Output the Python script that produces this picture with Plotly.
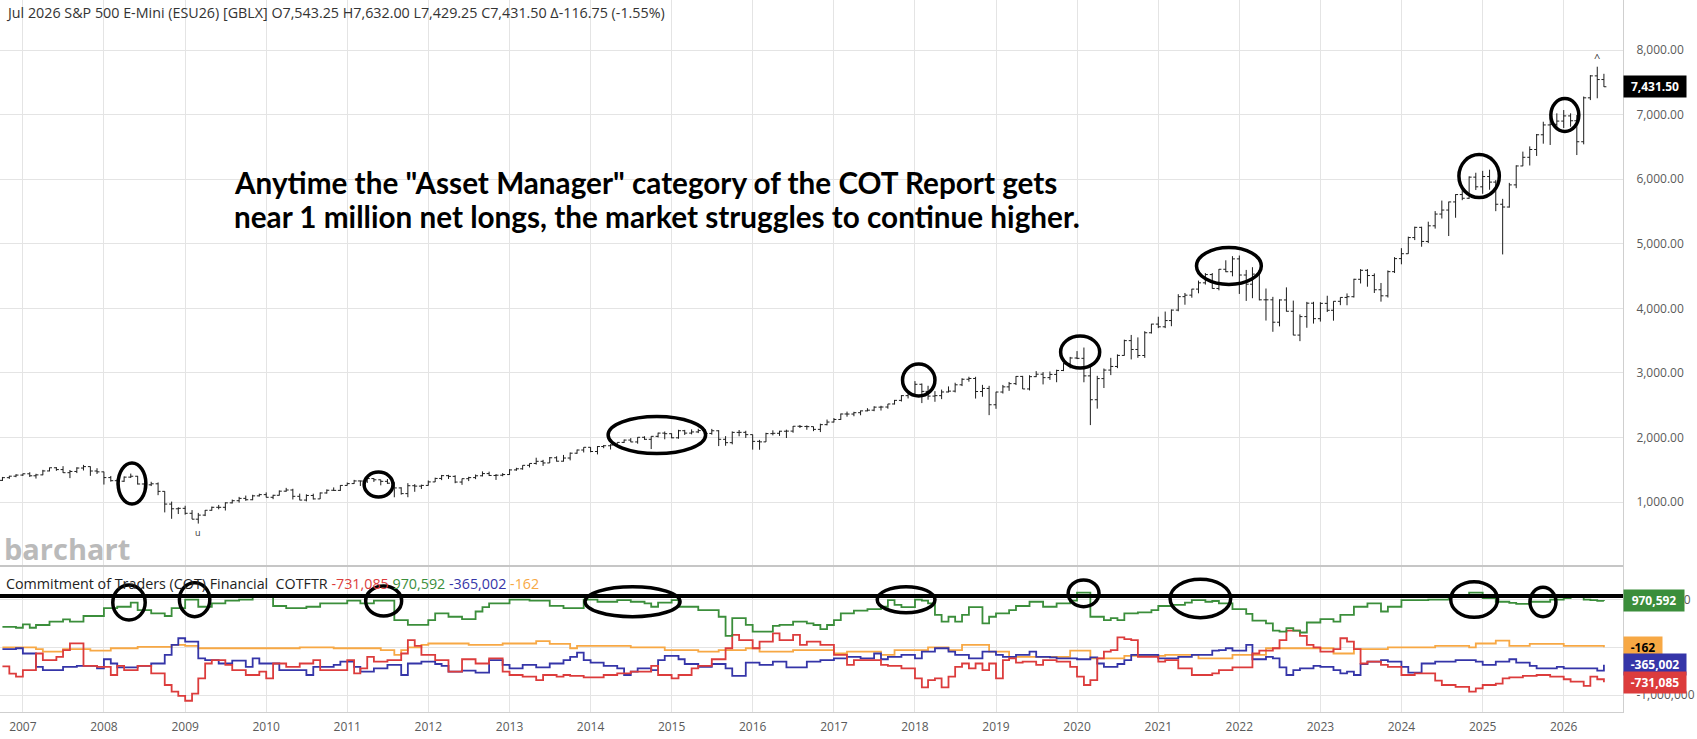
import numpy as np
import pandas as pd
import plotly.graph_objects as go

# monthly bars of the S&P 500 E-Mini, Oct 2006 .. Jul 2026
bar_open = [
    1336, 1378, 1401,
    1418, 1438, 1407, 1421, 1482, 1531, 1503, 1455, 1474, 1527, 1549, 1481,
    1468, 1379, 1331, 1323, 1386, 1400, 1280, 1267, 1283, 1166, 969, 896,
    903, 826, 735, 798, 873, 919, 919, 988, 1021, 1057, 1036, 1096,
    1115, 1074, 1105, 1169, 1187, 1089, 1031, 1102, 1049, 1141, 1183, 1181,
    1258, 1286, 1327, 1326, 1364, 1345, 1321, 1292, 1219, 1131, 1253, 1247,
    1258, 1312, 1366, 1409, 1398, 1310, 1362, 1379, 1407, 1441, 1412, 1416,
    1426, 1498, 1515, 1569, 1598, 1631, 1606, 1686, 1633, 1682, 1757, 1806,
    1848, 1783, 1860, 1872, 1884, 1924, 1960, 1931, 2003, 1972, 2018, 2068,
    2059, 1995, 2105, 2068, 2086, 2107, 2063, 2104, 1972, 1920, 2079, 2080,
    2044, 1940, 1932, 2060, 2065, 2097, 2099, 2174, 2171, 2168, 2126, 2199,
    2239, 2279, 2364, 2363, 2384, 2412, 2423, 2470, 2472, 2519, 2575, 2648,
    2674, 2824, 2714, 2641, 2648, 2705, 2718, 2816, 2902, 2914, 2712, 2760,
    2507, 2704, 2784, 2834, 2946, 2752, 2942, 2980, 2927, 2977, 3038, 3141,
    3231, 3226, 2954, 2585, 2912, 3044, 3100, 3271, 3500, 3363, 3270, 3622,
    3756, 3714, 3811, 3973, 4181, 4204, 4298, 4395, 4523, 4308, 4605, 4567,
    4766, 4516, 4374, 4530, 4132, 4132, 3785, 4130, 3955, 3586, 3872, 4080,
    3840, 4077, 3970, 4109, 4169, 4180, 4450, 4589, 4508, 4288, 4194, 4568,
    4770, 4846, 5096, 5254, 5036, 5278, 5460, 5522, 5648, 5762, 5705, 6032,
    5882, 6041, 5955, 5612, 5569, 5912, 6205, 6339, 6460, 6688, 6840, 6850,
    6900, 6980, 6905, 6580, 7260, 7600, 7543.25,
]
bar_high = [
    1389, 1407, 1432,
    1441, 1462, 1438, 1499, 1535, 1541, 1556, 1497, 1539, 1576, 1553, 1524,
    1471, 1404, 1359, 1397, 1441, 1405, 1293, 1314, 1304, 1168, 1007, 919,
    943, 876, 832, 877, 930, 956, 996, 1039, 1080, 1101, 1113, 1130,
    1150, 1113, 1180, 1220, 1206, 1131, 1120, 1130, 1149, 1196, 1227, 1263,
    1303, 1344, 1333, 1365, 1371, 1346, 1357, 1307, 1230, 1293, 1278, 1270,
    1334, 1378, 1420, 1422, 1415, 1364, 1392, 1427, 1475, 1471, 1434, 1448,
    1509, 1531, 1570, 1598, 1687, 1654, 1698, 1709, 1730, 1768, 1813, 1849,
    1850, 1867, 1884, 1897, 1924, 1968, 1991, 2005, 2019, 2019, 2075, 2093,
    2064, 2119, 2118, 2126, 2135, 2130, 2133, 2113, 2021, 2094, 2116, 2104,
    2046, 1963, 2073, 2111, 2104, 2121, 2178, 2194, 2188, 2170, 2214, 2278,
    2301, 2371, 2401, 2398, 2418, 2454, 2484, 2491, 2520, 2582, 2657, 2695,
    2873, 2836, 2801, 2718, 2742, 2791, 2848, 2917, 2941, 2940, 2815, 2800,
    2708, 2814, 2860, 2950, 2954, 2964, 3028, 3013, 3022, 3050, 3154, 3248,
    3338, 3393, 3137, 2955, 3068, 3233, 3287, 3515, 3588, 3550, 3646, 3760,
    3870, 3950, 3983, 4219, 4238, 4302, 4430, 4546, 4546, 4608, 4744, 4808,
    4818, 4595, 4637, 4593, 4307, 4178, 4140, 4325, 4120, 3906, 4100, 4101,
    4095, 4195, 4110, 4170, 4231, 4458, 4607, 4607, 4541, 4393, 4587, 4793,
    4932, 5111, 5265, 5264, 5342, 5506, 5669, 5652, 5768, 5878, 6044, 6100,
    6129, 6147, 5986, 5696, 5943, 6215, 6427, 6508, 6700, 6890, 6968, 7020,
    7071, 7020, 6994, 7280, 7612, 7742, 7632,
]
bar_low = [
    1327, 1360, 1385,
    1404, 1389, 1364, 1416, 1476, 1484, 1451, 1371, 1449, 1489, 1406, 1435,
    1271, 1317, 1257, 1313, 1373, 1272, 1200, 1248, 1107, 840, 741, 815,
    805, 735, 667, 783, 866, 888, 869, 979, 991, 1020, 1029, 1086,
    1071, 1045, 1101, 1160, 1040, 1028, 1011, 1040, 1048, 1131, 1173, 1173,
    1257, 1282, 1249, 1295, 1312, 1259, 1282, 1074, 1115, 1075, 1159, 1203,
    1255, 1310, 1340, 1358, 1292, 1267, 1325, 1355, 1397, 1403, 1343, 1399,
    1420, 1485, 1501, 1536, 1581, 1560, 1605, 1627, 1627, 1646, 1747, 1768,
    1771, 1738, 1834, 1814, 1862, 1915, 1928, 1904, 1964, 1821, 2001, 1972,
    1988, 1981, 2039, 2048, 2068, 2056, 2044, 1867, 1872, 1894, 2019, 1993,
    1812, 1810, 1931, 2033, 2025, 1992, 2074, 2147, 2120, 2098, 2084, 2188,
    2233, 2272, 2322, 2329, 2344, 2405, 2407, 2417, 2446, 2511, 2557, 2605,
    2668, 2533, 2585, 2553, 2594, 2698, 2698, 2796, 2864, 2603, 2631, 2346,
    2444, 2681, 2722, 2812, 2750, 2729, 2935, 2822, 2891, 2856, 3028, 3070,
    3214, 2855, 2192, 2447, 2766, 2966, 3074, 3268, 3209, 3234, 3233, 3610,
    3694, 3694, 3723, 3955, 4056, 4165, 4233, 4368, 4306, 4279, 4560, 4496,
    4223, 4115, 4157, 4124, 3811, 3637, 3721, 3950, 3584, 3492, 3699, 3764,
    3795, 3943, 3809, 4049, 4048, 4167, 4385, 4335, 4238, 4104, 4168, 4547,
    4682, 4845, 5057, 4954, 5012, 5235, 5391, 5120, 5403, 5675, 5696, 5832,
    5774, 5837, 5505, 4835, 5560, 5861, 6202, 6212, 6360, 6550, 6530, 6813,
    6793, 6813, 6374, 6540, 7225, 7253, 7429.25,
]
bar_close = [
    1378, 1401, 1418,
    1438, 1407, 1421, 1482, 1531, 1503, 1455, 1474, 1527, 1549, 1481, 1468,
    1379, 1331, 1323, 1386, 1400, 1280, 1267, 1283, 1166, 969, 896, 903,
    826, 735, 798, 873, 919, 919, 988, 1021, 1057, 1036, 1096, 1115,
    1074, 1105, 1169, 1187, 1089, 1031, 1102, 1049, 1141, 1183, 1181, 1258,
    1286, 1327, 1326, 1364, 1345, 1321, 1292, 1219, 1131, 1253, 1247, 1258,
    1312, 1366, 1409, 1398, 1310, 1362, 1379, 1407, 1441, 1412, 1416, 1426,
    1498, 1515, 1569, 1598, 1631, 1606, 1686, 1633, 1682, 1757, 1806, 1848,
    1783, 1860, 1872, 1884, 1924, 1960, 1931, 2003, 1972, 2018, 2068, 2059,
    1995, 2105, 2068, 2086, 2107, 2063, 2104, 1972, 1920, 2079, 2080, 2044,
    1940, 1932, 2060, 2065, 2097, 2099, 2174, 2171, 2168, 2126, 2199, 2239,
    2279, 2364, 2363, 2384, 2412, 2423, 2470, 2472, 2519, 2575, 2648, 2674,
    2824, 2714, 2641, 2648, 2705, 2718, 2816, 2902, 2914, 2712, 2760, 2507,
    2704, 2784, 2834, 2946, 2752, 2942, 2980, 2927, 2977, 3038, 3141, 3231,
    3226, 2954, 2585, 2912, 3044, 3100, 3271, 3500, 3363, 3270, 3622, 3756,
    3714, 3811, 3973, 4181, 4204, 4298, 4395, 4523, 4308, 4605, 4567, 4766,
    4516, 4374, 4530, 4132, 4132, 3785, 4130, 3955, 3586, 3872, 4080, 3840,
    4077, 3970, 4109, 4169, 4180, 4450, 4589, 4508, 4288, 4194, 4568, 4770,
    4846, 5096, 5254, 5036, 5278, 5460, 5522, 5648, 5762, 5705, 6032, 5882,
    6041, 5955, 5612, 5569, 5912, 6205, 6339, 6460, 6688, 6840, 6850, 6900,
    6980, 6905, 6580, 7260, 7600, 7543, 7431.5,
]

# COT financial net positions, thousands of contracts, same months
cot_asset_mgr = [
    430, 430, 410,
    480, 410, 467, 467, 540, 540, 587, 540, 540, 656, 656, 656,
    820, 820, 850, 850, 935, 780, 780, 710, 710, 656, 820, 820,
    1000, 1000, 850, 850, 920, 920, 980, 980, 1000, 1000, 1050, 1050,
    1050, 866, 866, 820, 820, 820, 850, 850, 920, 920, 920, 920,
    980, 980, 920, 920, 980, 980, 980, 570, 570, 470, 470, 470,
    570, 710, 710, 640, 640, 590, 590, 750, 840, 920, 920, 920,
    1000, 1000, 1000, 980, 980, 980, 870, 870, 820, 820, 820, 1000,
    1000, 955, 955, 955, 990, 990, 955, 955, 920, 850, 935, 935,
    990, 850, 850, 850, 780, 780, 780, 640, 240, 610, 610, 470,
    330, 330, 330, 450, 470, 470, 540, 540, 500, 467, 380, 467,
    570, 710, 710, 770, 770, 800, 800, 850, 990, 890, 840, 840,
    1000, 980, 920, 680, 540, 640, 540, 680, 840, 840, 500, 640,
    710, 710, 780, 866, 866, 955, 955, 850, 850, 920, 920, 980,
    1145, 1145, 640, 640, 570, 610, 570, 710, 710, 730, 730, 780,
    866, 866, 890, 890, 935, 990, 990, 955, 970, 920, 920, 800,
    800, 700, 560, 560, 500, 350, 330, 400, 350, 310, 520, 520,
    590, 590, 540, 680, 680, 850, 850, 920, 920, 750, 850, 850,
    990, 990, 990, 990, 1000, 1000, 1000, 1080, 1080, 1100, 1145, 1145,
    1030, 1030, 955, 955, 930, 910, 910, 955, 955, 955, 1000, 1000,
    1030, 1050, 1050, 1000, 990, 975, 970.592,
]
cot_dealer = [
    -400, -550, -616,
    -480, -480, -130, -270, -270, -200, -60, 83, 83, -390, -390, -410,
    -410, -580, -390, -480, -480, -390, -390, -546, -546, -790, -930, -1020,
    -1120, -970, -650, -340, -270, -270, -370, -480, -480, -580, -580, -510,
    -650, -340, -340, -410, -410, -340, -340, -270, -480, -480, -480, -480,
    -270, -546, -440, -200, -300, -300, -270, -270, -130, 150, 30, -160,
    -160, -270, -270, -510, -510, -250, -250, -340, -340, -230, -230, -510,
    -580, -580, -616, -616, -690, -580, -580, -616, -580, -600, -600, -630,
    -630, -630, -580, -580, -546, -546, -510, -510, -510, -390, -580, -580,
    -650, -580, -580, -440, -390, -390, -250, -250, -20, 260, 150, 150,
    -20, 120, 120, 290, 150, 150, 260, 50, 120, 120, 50, 50,
    -160, -160, -370, -270, -270, -270, -270, -370, -390, -390, -440, -440,
    -650, -840, -690, -650, -840, -616, -410, -340, -440, -340, -480, -340,
    -650, -270, -230, -320, -300, -300, -370, -270, -270, -300, -300, -410,
    -616, -790, -690, -230, -90, -60, 210, 170, 150, -200, -200, -200,
    -300, -270, -270, -440, -440, -580, -580, -580, -546, -480, -480, -420,
    -420, -420, -130, -70, -70, -20, 150, 350, 350, 240, 50, 0,
    -90, -90, -40, 190, 120, -40, -340, -300, -300, -370, -410, -410,
    -580, -580, -546, -546, -546, -700, -790, -790, -830, -830, -930, -860,
    -790, -790, -760, -650, -630, -630, -600, -600, -580, -580, -616, -616,
    -670, -720, -720, -810, -616, -670, -731.085,
]
cot_leveraged = [
    -40, -40, -20,
    -130, -130, -410, -480, -480, -480, -410, -410, -390, -390, -390, -440,
    -250, -340, -420, -420, -420, -390, -390, -340, -340, -160, 50, 190,
    120, 120, -230, -270, -270, -340, -340, -280, -280, -410, -230, -340,
    -340, -340, -480, -480, -480, -480, -580, -410, -410, -410, -370, -300,
    -300, -410, -510, -510, -440, -440, -370, -370, -580, -340, -340, -300,
    -300, -350, -390, -510, -510, -490, -490, -530, -530, -270, -270, -370,
    -440, -440, -370, -370, -420, -420, -340, -340, -270, -200, -110, -270,
    -320, -320, -390, -390, -440, -580, -510, -440, -440, -480, -270, -180,
    -180, -250, -350, -350, -410, -410, -350, -350, -440, -600, -600, -320,
    -320, -370, -370, -300, -300, -420, -420, -420, -300, -300, -270, -270,
    -230, -230, -200, -200, -230, -230, -130, -250, -200, -200, -160, -160,
    -230, -90, -90, -20, -20, -90, -160, -160, -230, -230, -90, -90,
    -160, -200, -200, -160, -160, -90, -200, -200, -210, -230, -230, -230,
    -250, -250, -210, -340, -410, -410, -350, -270, -160, -160, -160, -160,
    -230, -230, -230, -200, -200, -160, -160, -160, -70, -60, -20, -70,
    -70, 50, -250, -250, -200, -230, -420, -580, -480, -440, -440, -390,
    -410, -410, -480, -546, -510, -580, -350, -300, -300, -270, -300, -300,
    -410, -530, -530, -340, -340, -300, -300, -300, -270, -270, -270, -300,
    -370, -370, -300, -300, -250, -320, -320, -390, -440, -440, -440, -410,
    -440, -440, -440, -440, -440, -490, -365.002,
]
cot_other = [
    0, 0, 0,
    0, 0, -40, -90, -90, -90, -40, -40, -40, -40, -70, -70,
    -70, -20, -20, -20, -20, 10, 10, 10, 10, 10, 50, 50,
    30, 30, -20, -20, -20, -20, -20, -20, -20, -20, -20, -20,
    -20, -20, -20, -20, -20, 0, 0, 0, 0, 0, -20, -20,
    -20, -20, -20, -20, -20, -60, -60, -160, -60, 0, 0, 50,
    80, 80, 80, 80, 80, 80, 50, 50, 50, 50, 50, 80,
    80, 80, 80, 80, 130, 130, 70, 70, 70, -20, 30, 30,
    30, 30, 30, 30, 30, 30, 0, 0, 0, 0, 0, -60,
    -60, -60, -60, -60, -90, -90, -90, -60, -60, -60, -60, -20,
    -20, -90, -90, -90, -90, -90, -60, -60, -60, -60, -60, -60,
    -130, -130, -90, -90, -90, -90, -90, -160, -160, -60, -60, -60,
    -60, -60, 0, 0, 0, -60, -60, 50, 50, 50, 50, -90,
    -90, -90, -200, -200, -200, -200, -200, -200, -200, -200, -200, -70,
    -70, -70, -230, -230, -230, -230, -230, -180, -180, -180, -180, -180,
    -180, -160, -160, -160, -160, -160, -230, -230, -230, -230, -230, -160,
    -160, -160, -160, -160, -20, -20, -20, -20, -20, -20, -20, -20,
    -20, -20, -130, -130, -130, -40, -40, -40, -40, -40, 0, 0,
    0, 0, 0, 0, 0, 30, 30, 30, 30, 30, 0, 80,
    80, 80, 140, 140, 30, 30, 30, 70, 70, 70, 70, 70,
    30, 30, 30, 30, 30, 30, -0.162,
]

months = pd.date_range("2006-10-01", periods=len(bar_close), freq="MS")

# hand drawn circles: (from, to, low, high)
price_rings = [
    ("2008-03-05", "2008-07-08", 969, 1604),
    ("2011-03-18", "2011-07-26", 1078, 1465),
    ("2014-03-21", "2015-06-03", 1752, 2325),
    ("2017-11-06", "2018-04-01", 2642, 3138),
    ("2019-10-19", "2020-04-12", 3076, 3571),
    ("2021-06-22", "2022-04-10", 4369, 4942),
    ("2024-09-16", "2025-03-17", 5716, 6382),
    ("2025-11-04", "2026-03-10", 6738, 7249),
]
cot_rings = [
    ("2008-02-10", "2008-07-05", 0.572e6, 1.306e6),
    ("2008-12-06", "2009-04-22", 0.642e6, 1.354e6),
    ("2011-03-25", "2011-09-03", 0.656e6, 1.285e6),
    ("2013-12-07", "2015-02-08", 0.642e6, 1.27e6),
    ("2017-07-15", "2018-04-01", 0.725e6, 1.27e6),
    ("2019-11-22", "2020-04-09", 0.851e6, 1.411e6),
    ("2021-02-23", "2021-11-23", 0.621e6, 1.426e6),
    ("2024-08-10", "2025-03-09", 0.629e6, 1.375e6),
    ("2025-08-02", "2025-11-27", 0.642e6, 1.258e6),
]
threshold = 1.075e6

GREEN = "#3b8e3b"
RED = "#dc3c3c"
BLUE = "#3535a8"
ORANGE = "#f7a844"
GRID = "#e4e4e4"
EDGE = "#cfcfcf"

W, H = 1697, 739
PLOT_W, PLOT_H = 1623, 712
split = 1 - 566 / PLOT_H
x_range = ["2006-09-20", "2026-09-25"]


def px_x(x):
    return x / PLOT_W


def px_y(y):
    return 1 - y / PLOT_H


fig = go.Figure()

fig.add_trace(go.Ohlc(
    x=months, open=bar_open, high=bar_high, low=bar_low, close=bar_close,
    increasing_line_color="#1c1c1c", decreasing_line_color="#1c1c1c",
    line_width=1, tickwidth=0.4, xaxis="x", yaxis="y", hoverinfo="skip",
))

for vals, color in [(cot_other, ORANGE), (cot_leveraged, BLUE),
                    (cot_dealer, RED), (cot_asset_mgr, GREEN)]:
    fig.add_trace(go.Scatter(
        x=months, y=np.array(vals) * 1000, mode="lines", line_shape="hv",
        line=dict(color=color, width=1.8), xaxis="x2", yaxis="y2",
        hoverinfo="skip",
    ))

shapes = [
    dict(type="line", xref="paper", yref="paper", x0=0, x1=1, y0=split, y1=split,
         line=dict(color="#c6c6c6", width=2)),
    dict(type="line", xref="paper", yref="y2", x0=0, x1=1, y0=threshold, y1=threshold,
         line=dict(color="black", width=4)),
]
for a, b, lo, hi in price_rings:
    shapes.append(dict(type="circle", xref="x", yref="y", x0=a, x1=b, y0=lo, y1=hi,
                       line=dict(color="black", width=3.5)))
for a, b, lo, hi in cot_rings:
    shapes.append(dict(type="circle", xref="x2", yref="y2", x0=a, x1=b, y0=lo, y1=hi,
                       line=dict(color="black", width=3.5)))

title = ("Jul 2026 S&P 500 E-Mini (ESU26) [GBLX] O7,543.25 H7,632.00 "
         "L7,429.25 C7,431.50 \u0394-116.75 (-1.55%)")
cot_title = ("Commitment of Traders (COT) Financial\u00a0\u00a0COTFTR "
             f"<span style='color:{RED}'>{cot_dealer[-1] * 1000:,.0f}</span> "
             f"<span style='color:{GREEN}'>{cot_asset_mgr[-1] * 1000:,.0f}</span> "
             f"<span style='color:{BLUE}'>{cot_leveraged[-1] * 1000:,.0f}</span> "
             f"<span style='color:{ORANGE}'>{cot_other[-1] * 1000:,.0f}</span>")

annotations = [
    dict(text=title, xref="paper", yref="paper", x=px_x(4), y=px_y(13),
         xanchor="left", yanchor="middle", showarrow=False,
         font=dict(family="Open Sans", size=14.3, color="#333")),
    dict(text=cot_title, xref="paper", yref="paper", x=px_x(4), y=px_y(583),
         xanchor="left", yanchor="middle", showarrow=False,
         font=dict(family="Open Sans", size=14.3, color="#222")),
    dict(text="<b>Anytime the \"Asset Manager\" category of the COT Report gets</b>",
         xref="paper", yref="paper", x=px_x(232), y=px_y(182), xanchor="left",
         yanchor="middle", showarrow=False,
         font=dict(family="Lato", size=29.7, color="black")),
    dict(text="<b>near 1 million net longs, the market struggles to continue higher.</b>",
         xref="paper", yref="paper", x=px_x(232), y=px_y(216), xanchor="left",
         yanchor="middle", showarrow=False,
         font=dict(family="Lato", size=29.7, color="black")),
    dict(text="<b>barchart</b>", xref="paper", yref="paper", x=px_x(2), y=px_y(548),
         xanchor="left", yanchor="middle", showarrow=False,
         font=dict(family="Open Sans", size=29, color="#bababa")),
]

hi = int(np.argmax(bar_high))
lo = int(np.argmin(bar_low))
annotations.append(dict(text="^", x=months[hi], y=bar_high[hi], xref="x", yref="y",
                        yanchor="bottom", showarrow=False,
                        font=dict(family="Open Sans", size=11, color="#333")))
annotations.append(dict(text="u", x=months[lo], y=bar_low[lo], xref="x", yref="y",
                        yanchor="top", showarrow=False,
                        font=dict(family="Open Sans", size=9, color="#333")))

# last value boxes on the right axis
boxes = [
    ("y", bar_close[-1], f"{bar_close[-1]:,.2f}", "black", "white", 58),
    ("y2", cot_asset_mgr[-1] * 1000, f"{cot_asset_mgr[-1] * 1000:,.0f}", GREEN, "white", 56),
    ("y2", cot_other[-1] * 1000, f"{cot_other[-1] * 1000:,.0f}", ORANGE, "black", 34),
    ("y2", cot_leveraged[-1] * 1000, f"{cot_leveraged[-1] * 1000:,.0f}", BLUE, "white", 58),
    ("y2", cot_dealer[-1] * 1000, f"{cot_dealer[-1] * 1000:,.0f}", RED, "white", 58),
]
for yref, val, txt, bg, fg, w in boxes:
    annotations.append(dict(text=f"<b>{txt}</b>", xref="paper", yref=yref, x=1, y=val,
                            xanchor="left", yanchor="middle", showarrow=False,
                            bgcolor=bg, borderpad=2, width=w, align="center",
                            font=dict(family="Open Sans", size=12, color=fg)))

fig.update_layout(
    width=W, height=H,
    margin=dict(l=0, r=W - PLOT_W, t=0, b=H - PLOT_H, pad=0),
    paper_bgcolor="white", plot_bgcolor="white", showlegend=False,
    font=dict(family="Open Sans", size=12, color="#5a5a5a"),
    xaxis=dict(domain=[0, 1], anchor="y", range=x_range, type="date",
               dtick="M12", tick0="2007-01-01", showticklabels=False,
               showgrid=True, gridcolor=GRID, zeroline=False,
               rangeslider=dict(visible=False)),
    xaxis2=dict(domain=[0, 1], anchor="y2", range=x_range, type="date",
                dtick="M12", tick0="2007-01-01", tickformat="%Y",
                showgrid=True, gridcolor=GRID, zeroline=False,
                showline=True, linecolor=EDGE, linewidth=1,
                ticklabelstandoff=4),
    yaxis=dict(domain=[split, 1], anchor="x", side="right", range=[10, 8775],
               tick0=0, dtick=1000, tickformat=",.2f", showgrid=True,
               gridcolor=GRID, zeroline=False, showline=True, linecolor=EDGE,
               ticklabelstandoff=10),
    # the 0 label sits fully behind the -162 box in the original, so it is left blank
    yaxis2=dict(domain=[0, split], anchor="x2", side="right",
                range=[-1.356e6, 1.704e6], tickvals=[-1e6, 0, 1e6],
                ticktext=["-1,000,000", "", "1,000,000"], showgrid=True,
                gridcolor=GRID, zeroline=False, showline=True, linecolor=EDGE,
                ticklabelstandoff=10),
    shapes=shapes,
    annotations=annotations,
)

fig.write_html("out.html", config={"displayModeBar": False},
               post_script="document.body.style.margin='0';document.body.style.overflow='hidden';")
